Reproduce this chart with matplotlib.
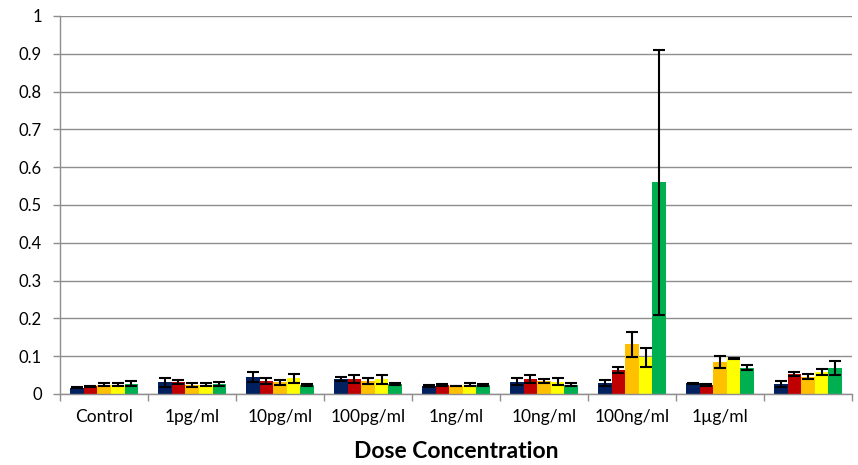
import matplotlib
matplotlib.use("Agg")
import matplotlib.pyplot as plt
import numpy as np
from matplotlib.ticker import FixedLocator, NullFormatter

plt.rcParams["font.family"] = ["Lato", "DejaVu Sans"]

categories = ["Control", "1pg/ml", "10pg/ml", "100pg/ml", "1ng/ml", "10ng/ml", "100ng/ml", "1\u00b5g/ml", ""]

s1 = [0.017, 0.031, 0.046, 0.039, 0.021, 0.033, 0.030, 0.028, 0.026]
s2 = [0.020, 0.031, 0.034, 0.039, 0.024, 0.039, 0.063, 0.024, 0.053]
s3 = [0.025, 0.024, 0.031, 0.034, 0.021, 0.034, 0.132, 0.085, 0.046]
s4 = [0.025, 0.025, 0.041, 0.039, 0.025, 0.033, 0.097, 0.094, 0.057]
s5 = [0.027, 0.026, 0.024, 0.026, 0.024, 0.024, 0.560, 0.070, 0.068]

e1 = [0.002, 0.012, 0.013, 0.005, 0.002, 0.008, 0.008, 0.002, 0.008]
e2 = [0.002, 0.005, 0.008, 0.011, 0.003, 0.010, 0.008, 0.003, 0.005]
e3 = [0.003, 0.006, 0.006, 0.008, 0.001, 0.006, 0.033, 0.015, 0.007]
e4 = [0.003, 0.003, 0.012, 0.012, 0.003, 0.010, 0.026, 0.002, 0.008]
e5 = [0.007, 0.005, 0.003, 0.002, 0.002, 0.004, 0.351, 0.006, 0.019]

series = [s1, s2, s3, s4, s5]
errors = [e1, e2, e3, e4, e5]
colors = ["#002060", "#C00000", "#FFC000", "#FFFF00", "#00B050"]

fig = plt.figure(figsize=(8.58, 4.65), dpi=100)
ax = fig.add_axes([0.070, 0.1527, 0.923, 0.8129])

x = np.arange(len(categories))
bw = 0.155
for i, (vals, errs, c) in enumerate(zip(series, errors, colors)):
    pos = x + (i - 2) * bw
    ax.bar(pos, vals, width=bw, color=c, edgecolor="none", zorder=2)
    ax.errorbar(pos, vals, yerr=errs, fmt="none", ecolor="black",
                elinewidth=1.5, capsize=4.3, capthick=1.5, zorder=3)

ax.set_xlim(-0.5, len(categories) - 0.5)
ax.set_ylim(0, 1)
ax.set_yticks(np.arange(0, 1.01, 0.1))
ax.set_yticklabels(["0", "0.1", "0.2", "0.3", "0.4", "0.5", "0.6", "0.7", "0.8", "0.9", "1"])
ax.yaxis.grid(True, color="#8E8E8E", linewidth=1.0, zorder=0)
ax.set_axisbelow(True)

ax.set_xticks(x)
ax.set_xticklabels(categories)
ax.xaxis.set_minor_locator(FixedLocator(np.arange(-0.5, len(categories), 1.0)))
ax.xaxis.set_minor_formatter(NullFormatter())
ax.tick_params(axis="x", which="major", length=0, labelsize=12.5, pad=11)
ax.tick_params(axis="x", which="minor", length=5, color="#8E8E8E", width=1)
ax.tick_params(axis="y", length=5, color="#8E8E8E", width=1, labelsize=12, pad=8)

for side in ["top", "right"]:
    ax.spines[side].set_visible(False)
for side in ["left", "bottom"]:
    ax.spines[side].set_color("#8E8E8E")
    ax.spines[side].set_linewidth(1.0)

ax.set_xlabel("Dose Concentration", fontsize=16.5, fontweight="bold", labelpad=11)

fig.savefig("out.png", dpi=100)
